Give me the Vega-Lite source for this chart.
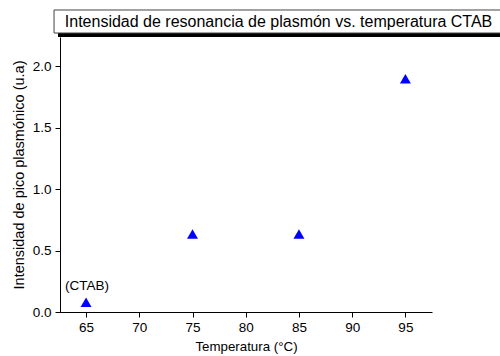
{
  "$schema": "https://vega.github.io/schema/vega-lite/v6.json",
  "autosize": "none",
  "width": 372,
  "height": 275,
  "padding": {"left": 60, "top": 37, "right": 68, "bottom": 44},
  "background": "white",
  "config": {
    "view": {"stroke": null},
    "font": "Liberation Sans",
    "axis": {"domainColor": "black", "tickColor": "black", "labelColor": "black", "titleColor": "black", "grid": false, "labelFont": "Liberation Sans", "titleFont": "Liberation Sans", "titleFontWeight": "normal"}
  },
  "data": {
    "values": [
      {"temp": 65, "intensity": 0.08, "label": "(CTAB)"},
      {"temp": 75, "intensity": 0.635, "label": ""},
      {"temp": 85, "intensity": 0.635, "label": ""},
      {"temp": 95, "intensity": 1.9, "label": ""}
    ]
  },
  "layer": [
    {
      "data": {"values": [{}]},
      "mark": {"type": "rect", "color": "black", "clip": false},
      "encoding": {
        "x": {"datum": 62.36, "type": "quantitative", "scale": {"domain": [62.55, 97.5]}},
        "x2": {"datum": 105},
        "y": {"datum": 2.43, "type": "quantitative", "scale": {"domain": [0, 2.24]}},
        "y2": {"datum": 2.24}
      }
    },
    {
      "data": {"values": [{}]},
      "mark": {"type": "rect", "fill": "white", "stroke": "#444444", "strokeWidth": 1, "clip": false},
      "encoding": {
        "x": {"datum": 61.99, "type": "quantitative"},
        "x2": {"datum": 105},
        "y": {"datum": 2.46, "type": "quantitative"},
        "y2": {"datum": 2.2725}
      }
    },
    {
      "data": {"values": [{"title": "Intensidad de resonancia de plasmón vs. temperatura CTAB"}]},
      "mark": {"type": "text", "align": "left", "baseline": "middle", "fontSize": 16, "color": "black", "clip": false, "font": "Liberation Sans"},
      "encoding": {
        "x": {"datum": 63.0, "type": "quantitative"},
        "y": {"datum": 2.362, "type": "quantitative"},
        "text": {"field": "title"}
      }
    },
    {
      "mark": {"type": "point", "shape": "triangle-up", "filled": true, "color": "#0000FF", "size": 120, "opacity": 1},
      "encoding": {
        "x": {
          "field": "temp", "type": "quantitative",
          "scale": {"domain": [62.55, 97.5], "nice": false, "zero": false},
          "axis": {
            "title": "Temperatura (°C)",
            "titleFontSize": 13.3,
            "titlePadding": 6,
            "values": [65, 67.5, 70, 72.5, 75, 77.5, 80, 82.5, 85, 87.5, 90, 92.5, 95, 97.5],
            "labelExpr": "datum.value % 5 === 0 ? format(datum.value, 'd') : ''",
            "labelFontSize": 13.5,
            "labelPadding": 3,
            "tickSize": {"condition": {"test": "datum.value % 5 === 0", "value": 5}, "value": 3},
            "domainWidth": 1,
            "tickWidth": 1
          }
        },
        "y": {
          "field": "intensity", "type": "quantitative",
          "scale": {"domain": [0, 2.24], "nice": false, "zero": false},
          "axis": {
            "title": "Intensidad de pico plasmónico (u.a)",
            "titleFontSize": 14.5,
            "titlePadding": 6,
            "values": [0, 0.25, 0.5, 0.75, 1, 1.25, 1.5, 1.75, 2],
            "labelExpr": "datum.value * 2 % 1 === 0 ? format(datum.value, '.1f') : ''",
            "labelFontSize": 13.5,
            "labelPadding": 4,
            "tickSize": {"condition": {"test": "datum.value * 2 % 1 === 0", "value": 5}, "value": 3},
            "domainWidth": 1,
            "tickWidth": 1
          }
        }
      }
    },
    {
      "transform": [{"filter": "datum.label !== ''"}],
      "mark": {"type": "text", "fontSize": 13.5, "color": "black", "dy": -9, "baseline": "bottom", "dx": 1},
      "encoding": {
        "x": {"field": "temp", "type": "quantitative"},
        "y": {"field": "intensity", "type": "quantitative"},
        "text": {"field": "label"}
      }
    }
  ]
}
